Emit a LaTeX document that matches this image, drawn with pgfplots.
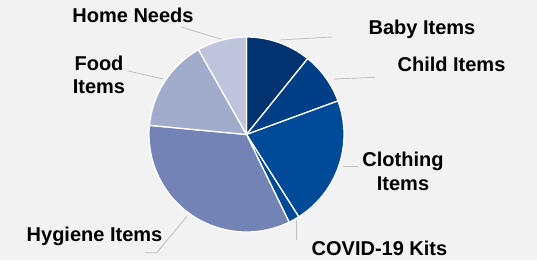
\documentclass[border=0pt]{standalone}
\usepackage{pgfplots}
\usepackage{pgfplotstable}
\pgfplotsset{compat=1.18}
\usepackage{fontspec}
\setmainfont{Liberation Sans}
\definecolor{bgcol}{HTML}{F2F2F2}
\definecolor{leader}{HTML}{BFBFBF}
\definecolor{pc0}{RGB}{0,51,111}
\definecolor{pc1}{RGB}{0,63,136}
\definecolor{pc2}{RGB}{0,74,152}
\definecolor{pc3}{RGB}{0,74,152}
\definecolor{pc4}{RGB}{116,131,182}
\definecolor{pc5}{RGB}{161,171,204}
\definecolor{pc6}{RGB}{190,196,220}
\tikzset{lab/.style={font=\fontsize{20}{23}\selectfont\bfseries, text=black, anchor=base, inner sep=0pt}}

% clockwise from 12 o'clock: Baby, Child, Clothing, COVID-19, Hygiene, Food, Home
\pgfplotstableread{
idx x y value
0 246.5 125.5 10.8
1 246.5 125.5 8.6
2 246.5 125.5 21.6
3 246.5 125.5 1.8
4 246.5 125.5 33.7
5 246.5 125.5 15.3
6 246.5 125.5 8.2
}\piedata
\pgfplotstablecreatecol[create col/expr accum={\pgfmathaccuma + \thisrow{value}}{0}]{cum}{\piedata}

\begin{document}
\begin{tikzpicture}
\fill[bgcol] (0,0) rectangle (537pt,260pt);
\useasboundingbox (0,0) rectangle (537pt,260pt);
\begin{axis}[
  at={(0,0)}, anchor=south west,
  scale only axis, width=537pt, height=260pt,
  xmin=0, xmax=537, ymin=0, ymax=260,
  hide axis, clip=false,
]
\addplot[scatter, only marks, mark=*, mark size=0pt, color=white,
  visualization depends on={\thisrow{idx} \as \ci},
  visualization depends on={90-3.6*(\thisrow{cum}-\thisrow{value}) \as \sa},
  visualization depends on={90-3.6*\thisrow{cum} \as \ea},
  scatter/@pre marker code/.code={%
    \pgfmathtruncatemacro\cj{round(\ci)}%
    \fill[fill=pc\cj, draw=white, line width=1.3pt, line join=round]
      (0pt,0pt) -- (\sa:97.5pt) arc[start angle=\sa, end angle=\ea, radius=97.5pt] -- cycle;
  },
  scatter/@post marker code/.code={},
] table[x=x, y=y] {\piedata};

% leader lines
\draw[leader, line width=0.8pt] (axis cs:181.7,232.7) -- (axis cs:221.7,220.7);
\draw[leader, line width=0.8pt] (axis cs:280,220) -- (axis cs:332,223);
\draw[leader, line width=0.8pt] (axis cs:334,181) -- (axis cs:375,182.7);
\draw[leader, line width=0.8pt] (axis cs:128.3,189) -- (axis cs:163.3,181);
\draw[leader, line width=0.8pt] (axis cs:343.3,94) -- (axis cs:358.3,94);
\draw[leader, line width=0.8pt] (axis cs:296,40) -- (axis cs:296,20);
\draw[leader, line width=0.8pt] (axis cs:186.7,43.3) -- (axis cs:156.7,7.3) -- (axis cs:145,7.3);

% labels
\node[lab] at (axis cs:133,237) {Home Needs};
\node[lab] at (axis cs:422,225.5) {Baby Items};
\node[lab] at (axis cs:451.5,188.8) {Child Items};
\node[lab] at (axis cs:99,189) {Food};
\node[lab] at (axis cs:99,166) {Items};
\node[lab] at (axis cs:403,93.5) {Clothing};
\node[lab] at (axis cs:403,70) {Items};
\node[lab] at (axis cs:94.5,18.8) {Hygiene Items};
\node[lab] at (axis cs:379.5,4.5) {COVID-19 Kits};
\end{axis}
\end{tikzpicture}
\end{document}
